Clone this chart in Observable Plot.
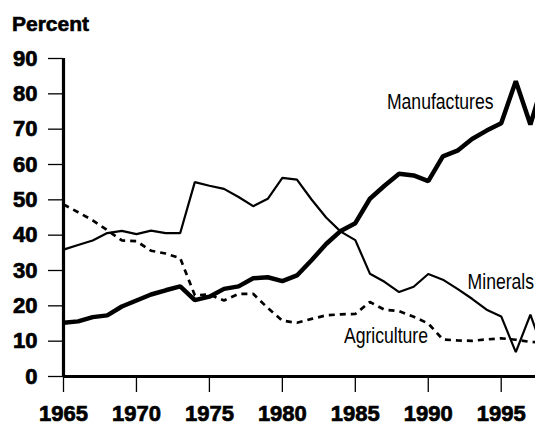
<!DOCTYPE html>
<html><head><meta charset="utf-8">
<script src="https://cdn.jsdelivr.net/npm/d3@7"></script>
<script src="https://cdn.jsdelivr.net/npm/@observablehq/plot@0.6"></script>
<style>
body{margin:0;background:#fff;}
#wrap{position:relative;width:535px;height:426px;background:#fff;font-family:"Liberation Sans",Arial,sans-serif;}
#title{position:absolute;z-index:2;left:12px;top:12.6px;font-size:21px;font-weight:bold;line-height:21px;color:#000;-webkit-text-stroke:0.6px #000;}
</style></head><body>
<div id="wrap"><div id="title">Percent</div></div>
<script>
const years = [1965,1966,1967,1968,1969,1970,1971,1972,1973,1974,1975,1976,1977,1978,1979,1980,1981,1982,1983,1984,1985,1986,1987,1988,1989,1990,1991,1992,1993,1994,1995,1996,1997,1998];
const manufactures = [15.2,15.6,16.8,17.3,19.8,21.5,23.2,24.4,25.5,21.6,22.6,24.8,25.5,27.8,28.1,27.0,28.6,32.9,37.5,41.2,43.4,50.3,54.0,57.4,56.9,55.3,62.3,63.9,67.2,69.6,71.7,83.6,71.3,85];
const minerals = [35.9,37.2,38.5,40.6,41.2,40.3,41.3,40.6,40.6,55.0,54.0,53.1,50.8,48.2,50.3,56.2,55.7,50.1,45.0,41.0,38.6,29.1,26.8,23.9,25.4,29.0,27.4,24.8,22.0,18.9,17.0,6.9,17.5,6];
const agriculture = [48.7,46.5,44.2,41.4,38.5,38.3,35.6,34.8,33.5,23.0,23.2,21.5,23.4,23.4,19.4,15.8,15.2,16.3,17.3,17.6,17.7,21.1,18.9,18.5,16.9,15.0,10.5,10.2,10.1,10.5,10.8,10.4,9.8,9.6];
const yTicks = [0,10,20,30,40,50,60,70,80,90];
const xTicks = [1965,1970,1975,1980,1985,1990,1995];
const seriesNames = ["Manufactures","Minerals","Agriculture"];

const rows = s => years.map((y,i)=>({year:y, value:s[i]}));

const chart = Plot.plot({
  width: 535,
  height: 426,
  marginLeft: 63,
  marginRight: 0,
  marginTop: 58,
  marginBottom: 50,
  style: {fontFamily: '"Liberation Sans", Arial, sans-serif', background: "transparent", color: "#000", overflow: "hidden"},
  x: {domain: [1965, 1997.35]},
  y: {domain: [0, 90]},
  marks: [
    Plot.axisY({ticks: yTicks, tickSize: 15, tickPadding: 11, fontSize: 22, fontWeight: "bold", label: null, strokeWidth: 1.3}),
    Plot.axisX({ticks: xTicks, tickSize: 16, tickPadding: 13, fontSize: 22, fontWeight: "bold", label: null, tickFormat: "d", strokeWidth: 1.3}),
    Plot.line(rows(minerals), {x: "year", y: "value", stroke: "#000", strokeWidth: 2.2, strokeLinejoin: "miter", strokeLinecap: "butt", clip: true}),
    Plot.line(rows(agriculture), {x: "year", y: "value", stroke: "#000", strokeWidth: 2.7, strokeDasharray: "6,5", strokeLinejoin: "miter", strokeLinecap: "butt", clip: true}),
    Plot.line(rows(manufactures), {x: "year", y: "value", stroke: "#000", strokeWidth: 4.5, strokeLinejoin: "miter", strokeLinecap: "butt", clip: true}),
    Plot.ruleX([1965], {y1: 0, y2: 90, stroke: "#000", strokeWidth: 3.2}),
    Plot.ruleY([0], {stroke: "#000", strokeWidth: 3.2}),
    Plot.text([seriesNames[0]], {x: () => 1994.47, y: () => 77.6, text: d => d, textAnchor: "end", lineAnchor: "middle", fontSize: 22, fill: "#000"}),
    Plot.text([seriesNames[1]], {x: () => 1997.25, y: () => 26.7, text: d => d, textAnchor: "end", lineAnchor: "middle", fontSize: 22, fill: "#000"}),
    Plot.text([seriesNames[2]], {x: () => 1984.22, y: () => 11.6, text: d => d, textAnchor: "start", lineAnchor: "middle", fontSize: 22, fill: "#000"})
  ]
});
chart.style.position = "absolute";
chart.style.left = "0";
chart.style.top = "0";
chart.style.zIndex = "1";
document.getElementById("wrap").appendChild(chart);
// condense the series labels horizontally
d3.select(chart).selectAll('g[aria-label="text"] text').each(function(){
  const t = this.getAttribute("transform");
  if (t) this.setAttribute("transform", t + " scale(0.8,1)");
  else {
    const x = +this.getAttribute("x") || 0, y = +this.getAttribute("y") || 0;
    this.removeAttribute("x"); this.removeAttribute("y");
    this.setAttribute("transform", `translate(${x},${y}) scale(0.8,1)`);
  }
});
// heavier tick labels, as in the reference
d3.select(chart).selectAll('g[aria-label$="tick label"] text')
  .attr("stroke", "#000").attr("stroke-width", 0.7).attr("paint-order", "stroke");
</script>
</body></html>
